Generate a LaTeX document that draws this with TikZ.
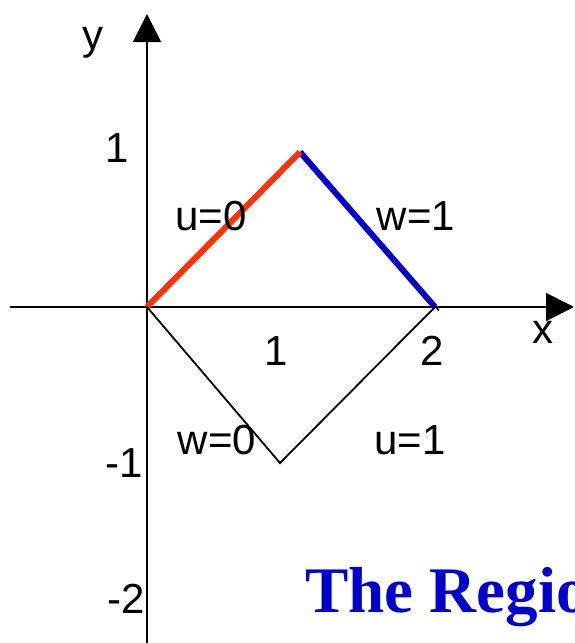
\documentclass[tikz,border=0pt]{standalone}
\usepackage{fontspec}
\setmainfont{Liberation Sans}
\newfontfamily\titlefont{Liberation Serif}
\usetikzlibrary{arrows.meta}
\definecolor{redline}{HTML}{FF3300}
\definecolor{blueline}{HTML}{0000CC}
\tikzset{
  axis/.style={line width=2pt,-{Triangle[length=28pt,width=28pt]}},
  thin/.style={line width=1.8pt,black},
  lbl/.style={inner sep=0pt,anchor=base,font=\fontsize{42}{42}\selectfont},
}
\begin{document}
\begin{tikzpicture}[x=1pt,y=-1pt]
\useasboundingbox (0,0) rectangle (574,643);
\clip (0,0) rectangle (574,643);
\coordinate (O) at (147,307);
\coordinate (T) at (300,152);
\coordinate (R) at (435,307);
\coordinate (B) at (280,463);
\coordinate (xs) at (10,307);
\coordinate (xe) at (574,307);
\coordinate (ys) at (147,643);
\coordinate (ye) at (147,14);
\draw[axis] (xs) -- (xe);
\draw[axis] (ys) -- (ye);
\draw[thin] ([xshift=3.8pt,yshift=-3.3pt]T) -- ([xshift=3.8pt,yshift=-3.3pt]R);
\draw[line width=6pt,blueline] (T) -- (R);
\draw[line width=6pt,redline] (O) -- (T);
\draw[thin] (O) -- (B) -- (R);
\node[lbl] (ylab) at (93,49) {y};
\node[lbl] (xlab) at (543,343) {x};
\node[lbl] (y1) at (117,162) {1};
\node[lbl] (x1) at (276,365) {1};
\node[lbl] (x2) at (432,365) {2};
\node[lbl] (ym1) at (124,477) {-1};
\node[lbl] (ym2) at (126,613) {-2};
\node[lbl] (u0) at (211,230) {u=0};
\node[lbl] (w1) at (416,230) {w=1};
\node[lbl] (w0) at (217,454) {w=0};
\node[lbl] (u1) at (410,454) {u=1};
\node[inner sep=0pt,anchor=base west,text=blueline,font=\titlefont\bfseries\fontsize{65}{65}\selectfont] (title) at (305,612) {The Region};
\end{tikzpicture}
\end{document}
